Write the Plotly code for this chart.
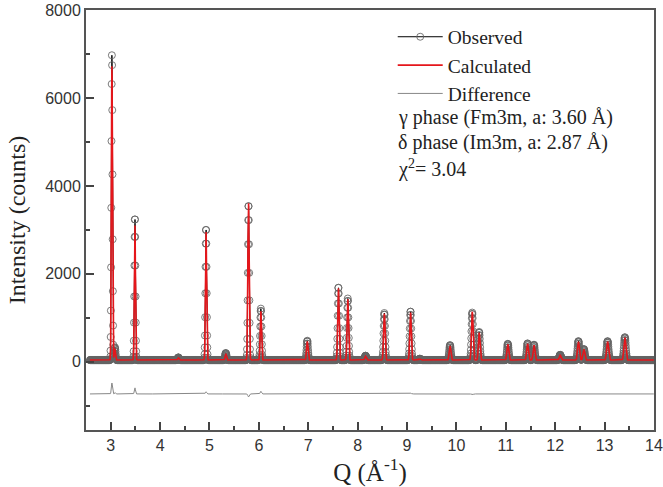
import numpy as np
import plotly.graph_objects as go

# ---- data ----
peak_q = [3.025, 3.085, 3.49, 4.37, 4.93, 5.33, 5.79, 6.04, 6.98, 7.61, 7.80, 8.16,
          8.54, 9.07, 9.26, 9.87, 10.32, 10.46, 11.04, 11.44, 11.57, 12.10, 12.47,
          12.58, 13.06, 13.41]
obs_height = [7000, 330, 3290, 100, 3040, 200, 3580, 1210, 480, 1700, 1440, 140,
              1110, 1150, 70, 380, 1120, 680, 410, 420, 390, 160, 470, 290, 470, 560]
calc_height = [6750, 300, 3150, 90, 2990, 185, 3650, 1150, 465, 1690, 1425, 130,
               1095, 1130, 65, 365, 1140, 665, 400, 410, 382, 150, 460, 282, 462, 552]
peak_width = [0.011, 0.012, 0.011, 0.014, 0.012, 0.014, 0.013, 0.013, 0.014, 0.014,
              0.014, 0.016, 0.015, 0.015, 0.016, 0.016, 0.016, 0.016, 0.017, 0.017,
              0.017, 0.018, 0.018, 0.018, 0.019, 0.019]
background = 40
q_start, q_stop, q_step = 2.58, 14.0, 0.004
diff_offset = -730

q = np.arange(q_start, q_stop, q_step)

def profile(heights):
    y = np.full_like(q, background, dtype=float)
    for c, h, w in zip(peak_q, heights, peak_width):
        y += (h - background) * np.exp(-0.5 * ((q - c) / w) ** 2)
    return y

obs = profile(obs_height)
calc = profile(calc_height)
diff = obs - calc + diff_offset

serif = "Liberation Serif, Times New Roman, serif"
sans = "Liberation Sans, Arial, sans-serif"

fig = go.Figure()
fig.add_trace(go.Scatter(x=q, y=obs, mode="lines+markers", name="Observed",
                         line=dict(color="black", width=1),
                         marker=dict(symbol="circle-open", size=7,
                                     color="rgba(100,100,100,0.85)", line=dict(width=1))))
fig.add_trace(go.Scatter(x=q, y=calc, mode="lines", name="Calculated",
                         line=dict(color="#e5161b", width=1.6)))
fig.add_trace(go.Scatter(x=q, y=diff, mode="lines", name="Difference",
                         line=dict(color="#888888", width=1)))

axis_common = dict(showline=True, linecolor="#555555", linewidth=2, mirror=True,
                   showgrid=False, zeroline=False, ticks="inside", ticklen=8,
                   tickwidth=1.5, tickcolor="#444444", automargin=False,
                   tickfont=dict(family=sans, size=16, color="#333333"))

fig.update_xaxes(range=[2.5, 14], tick0=0, dtick=1,
                 minor=dict(ticks="inside", ticklen=4, dtick=0.5, tick0=0,
                            tickcolor="#444444", tickwidth=1.5),
                 title=dict(text="Q (Å<sup>-1</sup>)",
                            font=dict(family=serif, size=25, color="#222222"),
                            standoff=16),
                 **axis_common)
fig.update_yaxes(range=[-1550, 8000], tick0=0, dtick=2000,
                 minor=dict(ticks="inside", ticklen=4, dtick=1000, tick0=0,
                            tickcolor="#444444", tickwidth=1.5),
                 title=dict(text="Intensity (counts)",
                            font=dict(family=serif, size=24, color="#222222"),
                            standoff=13),
                 **axis_common)

notes = ["γ phase (Fm3m, a: 3.60 Å)", "δ phase (Im3m, a: 2.87 Å)", "χ<sup>2</sup>= 3.04"]
for i, t in enumerate(notes):
    fig.add_annotation(text=t, xref="paper", yref="paper", x=0.546,
                       y=1 - (117 + 25.5 * i - 10) / 420, xanchor="left", yanchor="middle",
                       showarrow=False, font=dict(family=serif, size=20, color="#222222"))

fig.update_layout(
    width=663, height=487,
    margin=dict(l=86, r=9, t=10, b=57),
    paper_bgcolor="white", plot_bgcolor="white",
    showlegend=True,
    legend=dict(x=0.54, y=0.982, xanchor="left", yanchor="top",
                bgcolor="rgba(0,0,0,0)", font=dict(family=serif, size=19.5, color="#222222"),
                itemwidth=45, tracegroupgap=0),
)

fig.write_html("out.html", config={"displayModeBar": False},
               post_script="document.body.style.margin='0';document.body.style.padding='0';")
